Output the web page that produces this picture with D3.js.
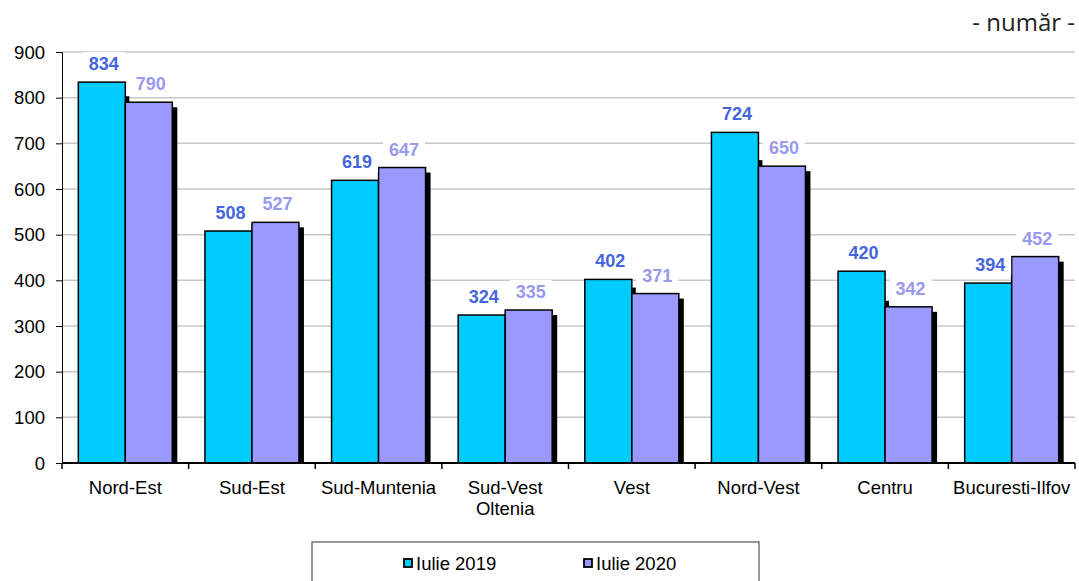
<!DOCTYPE html>
<html><head><meta charset="utf-8">
<script src="https://cdn.jsdelivr.net/npm/d3@7"></script>
<style>body{margin:0;background:#fff}svg{display:block}</style>
</head><body>
<svg id="c" width="1079" height="581"></svg>
<script>
const categories = ["Nord-Est","Sud-Est","Sud-Muntenia","Sud-Vest\nOltenia","Vest","Nord-Vest","Centru","Bucuresti-Ilfov"];
const series = ["Iulie 2019","Iulie 2020"];
const values2019 = [834,508,619,324,402,724,420,394];
const values2020 = [790,527,647,335,371,650,342,452];
const yTicks = [0,100,200,300,400,500,600,700,800,900];
const colors = ["#00CCFF","#9999FF"];
const labelColors = ["#4466DD","#9999EE"];

(function(){
const svg = d3.select("#c");
const pl = 62, pr = 1075, pt = 52, pb = 463;
const FONT = "Liberation Sans, Arial, sans-serif";
const x = d3.scaleBand().domain(categories).range([pl,pr]).paddingInner(0).paddingOuter(0);
const y = d3.scaleLinear().domain([0,900]).range([pb,pt]);
const bw = 47;

svg.append("g").selectAll("line").data(yTicks.filter(d=>d>0)).join("line")
  .attr("x1",pl).attr("x2",pr).attr("y1",d=>y(d)).attr("y2",d=>y(d))
  .attr("stroke","#c8c8c8").attr("stroke-width",1.5);

const ya = svg.append("g").attr("transform",`translate(${pl},0)`)
  .call(d3.axisLeft(y).tickValues(yTicks).tickSize(6).tickPadding(10));
ya.select(".domain").attr("stroke","#000").attr("stroke-width",1);
ya.selectAll(".tick line").attr("stroke","#000");
ya.selectAll("text").attr("font-family",FONT).attr("font-size",17.5).attr("fill","#000")
  .attr("transform","scale(1.06,1)").attr("dy","0.35em");

const data = categories.map((c,i)=>({c, v:[values2019[i],values2020[i]]}));
const groups = svg.append("g").selectAll("g").data(data).join("g")
  .attr("transform",d=>`translate(${x(d.c)+x.bandwidth()/2 - bw},0)`);

// shadows (the first bar's shadow is mostly hidden behind the second bar)
groups.each(function(d){
  const g = d3.select(this);
  const [a,b] = d.v;
  if (a > b) {
    const y0 = Math.max(y(a)+5, y(b)-6);
    g.append("rect").attr("x",bw).attr("y",y0).attr("width",4).attr("height",y(b)-y0+1).attr("fill","#000");
  }
  g.append("rect").attr("x",bw+bw).attr("y",y(b)+5).attr("width",5).attr("height",pb-y(b)-5).attr("fill","#000");
});
groups.selectAll("rect.b").data(d=>d.v).join("rect").attr("class","b")
  .attr("x",(d,i)=>i*bw).attr("y",d=>y(d)).attr("width",bw).attr("height",d=>pb-y(d))
  .attr("fill",(d,i)=>colors[i]).attr("stroke","#000").attr("stroke-width",1.5);

groups.each(function(d){
  const g = d3.select(this);
  d.v.forEach((v,i)=>{
    const cx = i*bw + bw/2 + 2, cy = y(v) - 17;
    g.append("rect").attr("x",cx-21).attr("y",cy-13).attr("width",42).attr("height",22).attr("fill","#fff");
    g.append("text").attr("x",cx).attr("y",cy+5).attr("text-anchor","middle")
      .attr("font-family",FONT).attr("font-weight","bold").attr("font-size",18)
      .attr("fill",labelColors[i]).text(v);
  });
});

svg.append("line").attr("x1",pl).attr("x2",pr).attr("y1",pb).attr("y2",pb).attr("stroke","#000").attr("stroke-width",2);
const bounds = categories.map(c=>x(c)).concat([pr]);
svg.append("g").selectAll("line").data(bounds).join("line")
  .attr("x1",d=>d).attr("x2",d=>d).attr("y1",pb).attr("y2",pb+6).attr("stroke","#000").attr("stroke-width",1.5);
svg.append("g").selectAll("text").data(categories).join("text")
  .attr("x",d=>x(d)+x.bandwidth()/2).attr("y",494).attr("text-anchor","middle")
  .attr("font-family",FONT).attr("font-size",18.5).attr("fill","#000")
  .each(function(d){
    const t=d3.select(this);
    d.split("\n").forEach((s,k)=>t.append("tspan").attr("x",x(d)+x.bandwidth()/2).attr("dy",k?21:0).text(s));
  });

svg.append("text").attr("x",1075).attr("y",31).attr("text-anchor","end")
  .attr("font-family","Open Sans, sans-serif").attr("font-size",24).attr("fill","#222").text("- număr -");

svg.append("rect").attr("x",312).attr("y",542).attr("width",447).attr("height",50).attr("fill","#fff").attr("stroke","#555").attr("stroke-width",1.2);
const leg = svg.append("g").selectAll("g").data(series).join("g")
  .attr("transform",(d,i)=>`translate(${[404,584][i]},564)`);
leg.append("rect").attr("x",0).attr("y",-5).attr("width",8).attr("height",8).attr("fill",(d,i)=>colors[i]).attr("stroke","#000").attr("stroke-width",1.8);
leg.append("text").attr("x",12).attr("y",6).attr("font-family",FONT).attr("font-size",18.5).attr("fill","#000").text(d=>d);
})();
</script>
</body></html>
